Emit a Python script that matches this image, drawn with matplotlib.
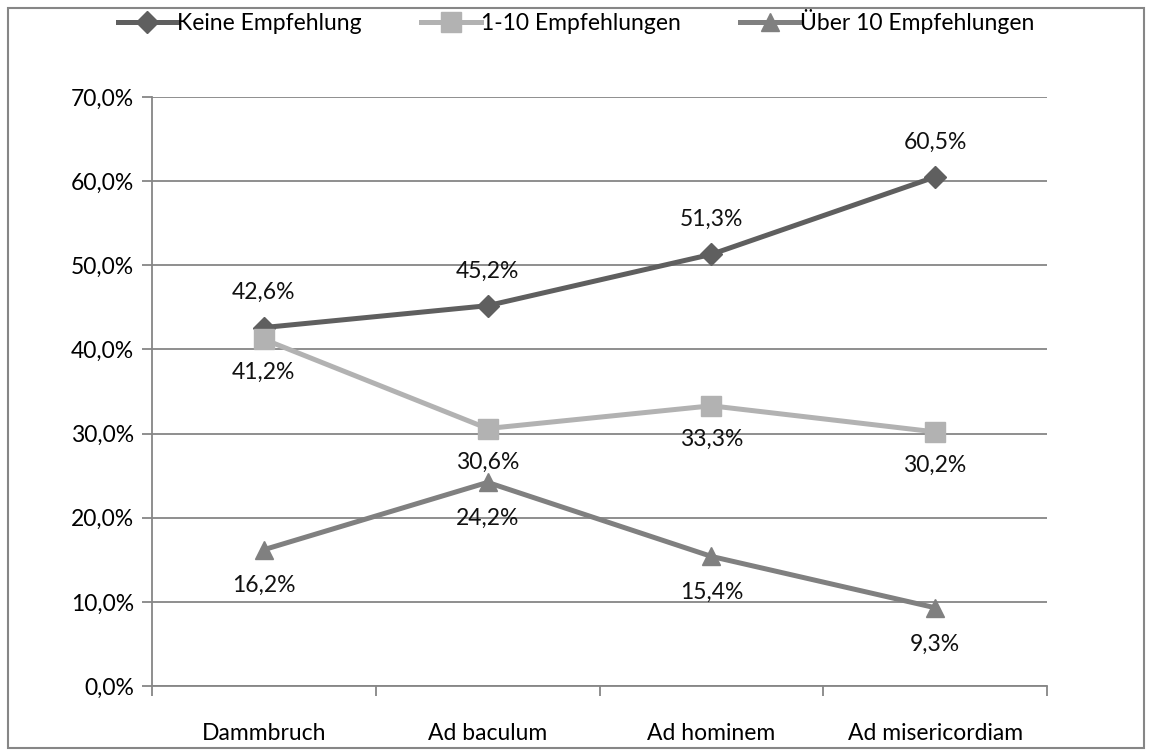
import matplotlib
matplotlib.use("Agg")
import matplotlib.pyplot as plt
from matplotlib.patches import Rectangle
from matplotlib.ticker import FuncFormatter

plt.rcParams['font.family'] = ['Lato', 'DejaVu Sans']

categories = ["Dammbruch", "Ad baculum", "Ad hominem", "Ad misericordiam"]
series_names = ["Keine Empfehlung", "1-10 Empfehlungen", "Über 10 Empfehlungen"]
keine = [42.6, 45.2, 51.3, 60.5]
eins_bis_zehn = [41.2, 30.6, 33.3, 30.2]
ueber_zehn = [16.2, 24.2, 15.4, 9.3]

colors = ["#5f5f5f", "#b2b2b2", "#808080"]
markers = ["D", "s", "^"]
msizes = [11, 14, 13]
# label offset in points: positive = above
offsets = [25, -24, -26]

fig = plt.figure(figsize=(11.52, 7.56), dpi=100)
ax = fig.add_axes([152 / 1152, 1 - 686 / 756, (1047 - 152) / 1152, (686 - 97) / 756])

x = list(range(len(categories)))
for vals, name, c, m, ms, off in zip([keine, eins_bis_zehn, ueber_zehn], series_names,
                                      colors, markers, msizes, offsets):
    ax.plot(x, vals, color=c, lw=3.6, marker=m, markersize=ms, label=name, zorder=3)
    for xi, v in zip(x, vals):
        ax.annotate(f"{v:.1f}%".replace(".", ","), (xi, v), xytext=(0, off),
                    textcoords="offset points", ha="center", va="center",
                    fontsize=16.5, color="#111111", zorder=4)

ax.set_xlim(-0.5, 3.5)
ax.set_ylim(0, 70)
ax.set_yticks(range(0, 71, 10))
ax.yaxis.set_major_formatter(FuncFormatter(lambda v, p: f"{v:.1f}%".replace(".", ",")))
ax.set_xticks(x)
ax.set_xticklabels(categories)
ax.set_xticks([-0.5, 0.5, 1.5, 2.5, 3.5], minor=True)
ax.tick_params(axis="x", which="major", length=0, pad=27, labelsize=16.5)
ax.tick_params(axis="x", which="minor", length=7, color="#868686", width=1.3)
ax.tick_params(axis="y", length=7, color="#868686", width=1.3, labelsize=16.5, pad=6)

ax.grid(axis="y", color="#868686", lw=1.3)
ax.set_axisbelow(True)
for s in ["top", "right"]:
    ax.spines[s].set_visible(False)
for s in ["left", "bottom"]:
    ax.spines[s].set_color("#868686")
    ax.spines[s].set_linewidth(1.3)

leg = fig.legend(loc="center", bbox_to_anchor=(0.5, 1 - 22 / 756), ncol=3, frameon=False,
                 fontsize=16.5, handlelength=2.6, handletextpad=0.0, columnspacing=2.6)

fig.patches.append(Rectangle((8 / 1152, 8 / 756), 1 - 16 / 1152, 1 - 16 / 756,
                             transform=fig.transFigure, fill=False,
                             edgecolor="#868686", lw=1.5))

fig.savefig("out.png", dpi=100)
